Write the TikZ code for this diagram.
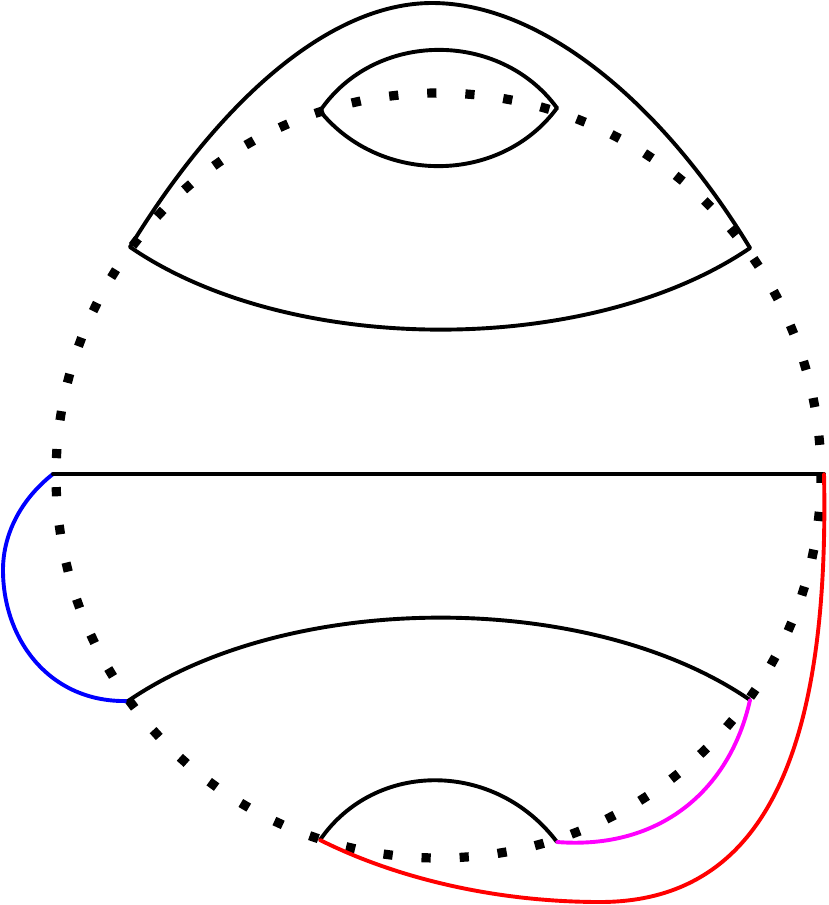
\documentclass[tikz,border=0pt]{standalone}
\usepackage{tikz}
\definecolor{pblue}{RGB}{0,0,255}
\definecolor{pred}{RGB}{255,0,0}
\definecolor{pmag}{RGB}{255,0,255}
\begin{document}
\begin{tikzpicture}[x=1pt,y=-1pt,
  curve/.style={line width=3.9pt,line cap=round,line join=miter},
  dotsq/.style={fill=black}]
\useasboundingbox (0,0) rectangle (828,905);
% named points
\coordinate (HL) at (53,474);
\coordinate (HR) at (824,474);
\coordinate (CL) at (130,247);
\coordinate (CR) at (750,248);
\coordinate (EL) at (320,111);
\coordinate (ER) at (557,108);
\coordinate (LL) at (128,701);
\coordinate (LR) at (750,700);
\coordinate (BL) at (320,840);
\coordinate (BR) at (557,842);
% blue
\draw[curve,pblue] (HL) .. controls (20,500) and (3,535) .. (3,570)
   .. controls (3,640) and (50,703) .. (LL);
% dotted circle
\foreach \k in {0,...,62}{
  \pgfmathsetmacro{\ang}{91+\k*5.7142857}
  \fill[dotsq,shift={(438.5,475.5)},rotate=\ang]
    (377.9,-4.6) rectangle (387.1,4.6);
}
% black curves
\draw[curve] (HL) -- (HR);
\draw[curve] (CL) .. controls (220,100) and (330,3) .. (432,3)
   .. controls (540,3) and (660,100) .. (CR);
\draw[curve] (CL) .. controls (290,357) and (590,357) .. (CR);
\draw[curve] (EL) .. controls (375,30) and (500,30) .. (ER);
\draw[curve] (EL) .. controls (380,185) and (500,185) .. (ER);
\draw[curve] (LL) .. controls (290,590) and (590,590) .. (LR);
\draw[curve] (BL) .. controls (375,760) and (495,760) .. (BR);
% red
\draw[curve,pred] (HR) .. controls (830,760) and (760,902) .. (600,902)
   .. controls (500,902) and (400,880) .. (BL);
% magenta
\draw[curve,pmag] (BR) .. controls (660,850) and (730,790) .. (LR);
\end{tikzpicture}
\end{document}
